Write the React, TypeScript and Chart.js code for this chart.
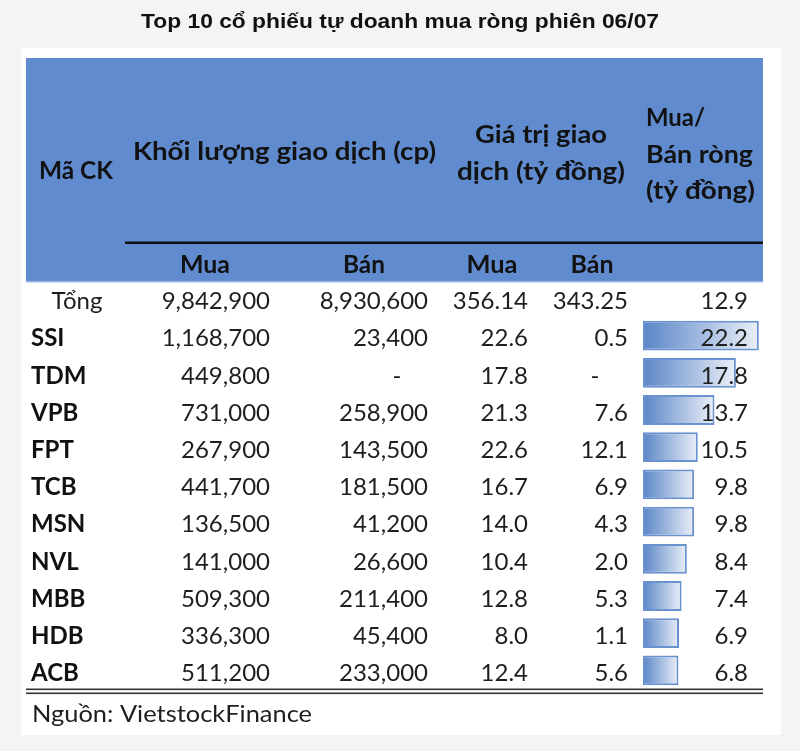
import React, { useEffect, useRef } from "react";
import { Chart, registerables } from "chart.js";

Chart.register(...registerables);

const titleText = "Top 10 cổ phiếu tự doanh mua ròng phiên 06/07";
const sourceText = "Nguồn: VietstockFinance";
const tickers = ["SSI", "TDM", "VPB", "FPT", "TCB", "MSN", "NVL", "MBB", "HDB", "ACB"];
const buyVolume = [1168700, 449800, 731000, 267900, 441700, 136500, 141000, 509300, 336300, 511200];
const sellVolume: (number | null)[] = [23400, null, 258900, 143500, 181500, 41200, 26600, 211400, 45400, 233000];
const buyValue = [22.6, 17.8, 21.3, 22.6, 16.7, 14.0, 10.4, 12.8, 8.0, 12.4];
const sellValue: (number | null)[] = [0.5, null, 7.6, 12.1, 6.9, 4.3, 2.0, 5.3, 1.1, 5.6];
const netValue = [22.2, 17.8, 13.7, 10.5, 9.8, 9.8, 8.4, 7.4, 6.9, 6.8];
const totalLabel = "Tổng";
const totalValues = [9842900, 8930600, 356.14, 343.25, 12.9];

const BODY_FONT = "Lato, 'Open Sans', sans-serif";
const BLUE = "#608ccf";

function fmtVol(v: number | null) {
  return v == null ? "-" : v.toLocaleString("en-US");
}
function fmtVal(v: number | null, d = 1) {
  return v == null ? "-" : v.toFixed(d);
}

// draw text stretched horizontally to a target width
function fitText(
  ctx: CanvasRenderingContext2D,
  txt: string,
  x: number,
  y: number,
  target: number,
  align: CanvasTextAlign
) {
  const w = ctx.measureText(txt).width;
  const sx = w > 0 ? target / w : 1;
  ctx.save();
  ctx.translate(x, y);
  ctx.scale(sx, 1);
  ctx.textAlign = align;
  ctx.fillText(txt, 0, 0);
  ctx.restore();
}

const tablePlugin = {
  id: "tablePlugin",
  beforeDraw(chart: any) {
    const ctx = chart.ctx as CanvasRenderingContext2D;
    const W = chart.width;
    const H = chart.height;
    ctx.save();
    ctx.fillStyle = "#f4f4f4";
    ctx.fillRect(0, 0, W, H);
    ctx.fillStyle = "#ffffff";
    ctx.fillRect(21, 48, 760, 687);
    ctx.fillStyle = BLUE;
    ctx.fillRect(26, 58, 737, 224);
    ctx.fillStyle = "#9db7e0";
    ctx.fillRect(26, 281, 737, 1.5);
    ctx.fillStyle = "#111";
    ctx.fillRect(125, 241.5, 638, 2.5);

    // title
    ctx.fillStyle = "#111";
    ctx.textBaseline = "middle";
    ctx.font = "bold 21px 'Liberation Sans', Arial, sans-serif";
    fitText(ctx, titleText, 400, 22, 518, "center");

    // header texts
    ctx.fillStyle = "#121212";
    ctx.font = `bold 24px ${BODY_FONT}`;
    fitText(ctx, "Mã CK", 39, 171, 74, "left");
    fitText(ctx, "Khối lượng giao dịch (cp)", 133, 152, 303, "left");
    fitText(ctx, "Mua/", 646, 118, 59, "left");
    fitText(ctx, "Bán ròng", 646, 155, 107, "left");
    fitText(ctx, "(tỷ đồng)", 646, 191, 109, "left");
    fitText(ctx, "Giá trị giao", 541, 135, 132, "center");
    fitText(ctx, "dịch (tỷ đồng)", 541, 172, 168, "center");
    fitText(ctx, "Mua", 205, 265, 50, "center");
    fitText(ctx, "Bán", 364, 265, 42, "center");
    fitText(ctx, "Mua", 492, 265, 51, "center");
    fitText(ctx, "Bán", 592, 265, 43, "center");

    // data rows
    const y = chart.scales.y;
    const rightEdges = [270, 428, 528, 628];
    const dashX = [null, 397, null, 595];
    const drawCell = (txt: string, col: number, yy: number) => {
      if (txt === "-") {
        ctx.textAlign = "center";
        ctx.fillText(txt, dashX[col] as number, yy);
      } else {
        ctx.textAlign = "right";
        ctx.fillText(txt, rightEdges[col], yy);
      }
    };
    ctx.fillStyle = "#1e1e1e";
    ctx.font = `24px ${BODY_FONT}`;
    const y0 = y.getPixelForValue(0) + 3;
    const yTot = y0 - 37.5;
    ctx.textAlign = "center";
    ctx.fillText(totalLabel, 77, yTot);
    drawCell(fmtVol(totalValues[0]), 0, yTot);
    drawCell(fmtVol(totalValues[1]), 1, yTot);
    drawCell(fmtVal(totalValues[2], 2), 2, yTot);
    drawCell(fmtVal(totalValues[3], 2), 3, yTot);
    tickers.forEach((t, i) => {
      const yy = y.getPixelForValue(i) + 3;
      ctx.font = `bold 24px ${BODY_FONT}`;
      ctx.fillStyle = "#111";
      ctx.textAlign = "left";
      ctx.fillText(t, 31, yy);
      ctx.font = `24px ${BODY_FONT}`;
      ctx.fillStyle = "#1e1e1e";
      drawCell(fmtVol(buyVolume[i]), 0, yy);
      drawCell(fmtVol(sellVolume[i]), 1, yy);
      drawCell(fmtVal(buyValue[i]), 2, yy);
      drawCell(fmtVal(sellValue[i]), 3, yy);
    });

    // bottom double line
    ctx.fillStyle = "#333";
    ctx.fillRect(26, 688.5, 737, 1.6);
    ctx.fillRect(26, 692.5, 737, 1.6);

    // footer
    ctx.fillStyle = "#1e1e1e";
    ctx.font = `24px ${BODY_FONT}`;
    fitText(ctx, sourceText, 32, 714, 280, "left");
    ctx.restore();
  },
  afterDatasetsDraw(chart: any) {
    const ctx = chart.ctx as CanvasRenderingContext2D;
    const y = chart.scales.y;
    ctx.save();
    ctx.fillStyle = "#1e1e1e";
    ctx.font = `24px ${BODY_FONT}`;
    ctx.textAlign = "right";
    ctx.textBaseline = "middle";
    const y0 = y.getPixelForValue(0) + 3;
    ctx.fillText(fmtVal(totalValues[4]), 748, y0 - 37.5);
    netValue.forEach((v, i) => {
      ctx.fillText(fmtVal(v), 748, y.getPixelForValue(i) + 3);
    });
    ctx.restore();
  },
};

export default function App() {
  const ref = useRef<HTMLCanvasElement | null>(null);
  useEffect(() => {
    if (!ref.current) return;
    const chart = new Chart(ref.current, {
      type: "bar",
      data: {
        labels: tickers,
        datasets: [
          {
            data: netValue,
            backgroundColor: (c: any) => {
              const ch = c.chart;
              if (!ch.chartArea || c.raw == null) return BLUE;
              const x0 = ch.scales.x.getPixelForValue(0);
              const x1 = ch.scales.x.getPixelForValue(c.raw);
              const g = ch.ctx.createLinearGradient(x0, 0, x1, 0);
              g.addColorStop(0, "#5b86c7");
              g.addColorStop(1, "#eaeff8");
              return g;
            },
            borderColor: "#6a92cf",
            borderWidth: 2,
            borderSkipped: false,
            categoryPercentage: 1,
            barPercentage: 0.8,
          },
        ],
      },
      options: {
        indexAxis: "y",
        responsive: false,
        maintainAspectRatio: false,
        animation: false,
        devicePixelRatio: 1,
        layout: { padding: { left: 643, right: 37, top: 317, bottom: 62 } },
        scales: {
          x: { display: false, min: 0, max: 23 },
          y: { display: false },
        },
        plugins: {
          legend: { display: false },
          tooltip: { enabled: false },
          title: { display: false },
        },
      },
      plugins: [tablePlugin],
    });
    return () => chart.destroy();
  }, []);
  return (
    <div style={{ position: "fixed", left: 0, top: 0, width: 800, height: 751 }}>
      <canvas ref={ref} width={800} height={751} style={{ display: "block" }} />
    </div>
  );
}
